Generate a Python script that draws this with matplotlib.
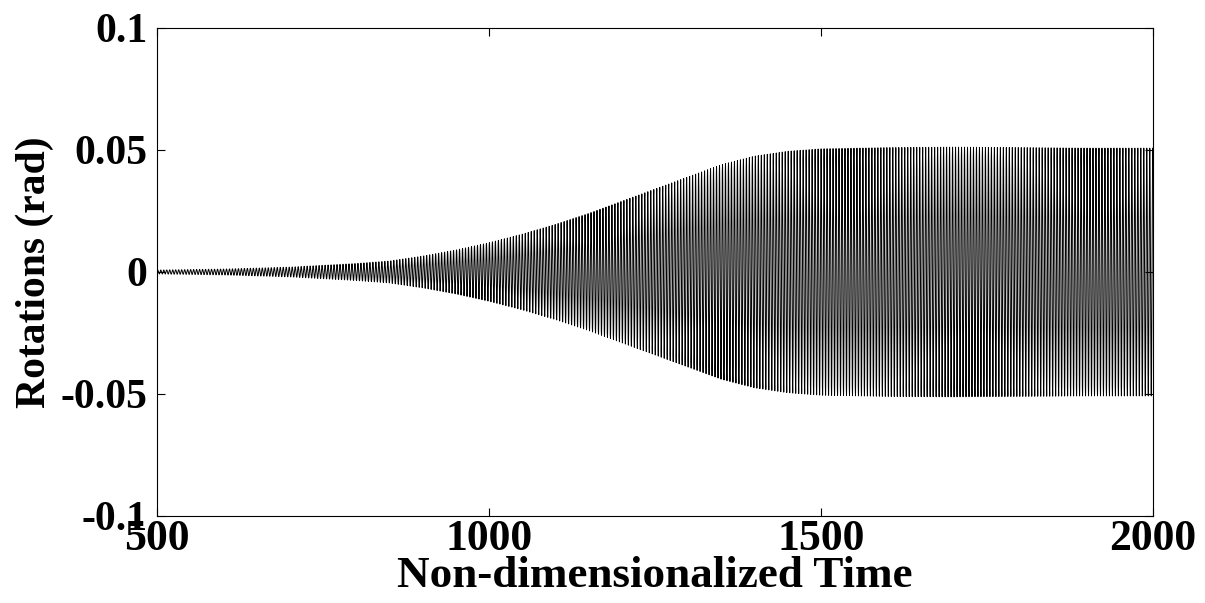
import numpy as np
import matplotlib
matplotlib.use("Agg")
import matplotlib.pyplot as plt

# envelope of the oscillation
env_t = [500, 600, 700, 800, 850, 900, 950, 1000, 1050, 1100, 1150, 1200,
         1250, 1300, 1350, 1400, 1450, 1500, 1600, 1700, 1800, 1900, 2000]
env_amp = [0.0008, 0.0012, 0.002, 0.0035, 0.0045, 0.0065, 0.009, 0.012, 0.0155,
           0.0195, 0.024, 0.029, 0.034, 0.039, 0.044, 0.0475, 0.0495, 0.0505,
           0.051, 0.0512, 0.051, 0.0508, 0.0508]
period = 4.5  # oscillation period

x_ticks = [500, 1000, 1500, 2000]
y_ticks = [-0.1, -0.05, 0, 0.05, 0.1]
y_ticklabels = ['-0.1', '-0.05', '0', '0.05', '0.1']

t = np.linspace(500, 2000, 30001)
y = np.interp(t, env_t, env_amp) * np.sin(2 * np.pi * (t - 500) / period)

plt.rcParams['font.family'] = ['Liberation Serif', 'DejaVu Serif']
plt.rcParams['font.weight'] = 'bold'

fig = plt.figure(figsize=(12.05, 6.03), dpi=100)
ax = fig.add_axes([157 / 1205, 1 - 516 / 603, 996 / 1205, 488 / 603])
ax.plot(t, y, color='black', lw=0.7)

ax.set_xlim(500, 2000)
ax.set_ylim(-0.1, 0.1)
ax.set_xticks(x_ticks)
ax.set_yticks(y_ticks)
ax.set_yticklabels(y_ticklabels)
ax.tick_params(direction='in', length=6, width=0.8, top=True, right=True)
ax.tick_params(axis='y', pad=7, labelsize=30)
ax.tick_params(axis='x', pad=2, labelsize=31.5)
for lab in ax.get_xticklabels() + ax.get_yticklabels():
    lab.set_fontweight('bold')
for s in ax.spines.values():
    s.set_linewidth(0.8)

ax.set_xlabel('Non-dimensionalized Time', fontsize=32.5, fontweight='bold')
ax.set_ylabel('Rotations (rad)', fontsize=30, fontweight='bold')
ax.xaxis.set_label_coords(0.5, -0.082)
ax.yaxis.set_label_coords(-0.103, 0.5)

fig.savefig('out.png', dpi=100, facecolor='white')
